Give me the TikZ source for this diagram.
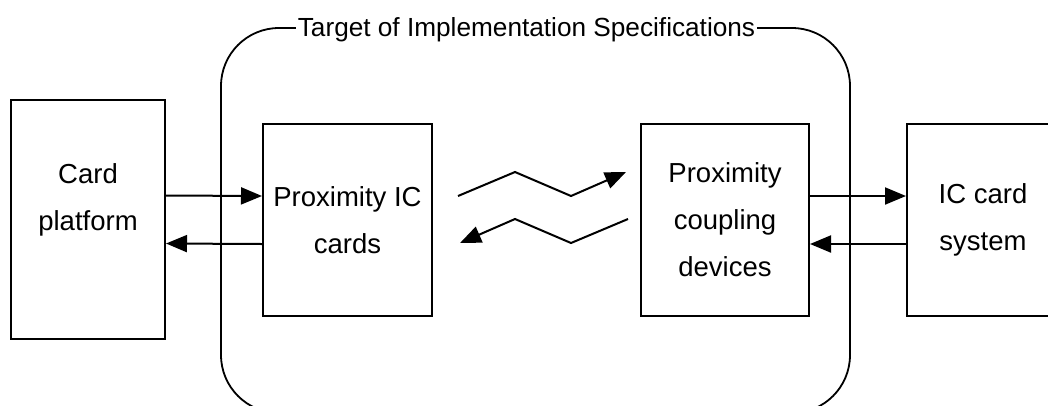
\documentclass[tikz,border=0pt]{standalone}
\usepackage{fontspec}
\setmainfont{Liberation Sans}
\usetikzlibrary{arrows.meta}
\begin{document}
\begin{tikzpicture}[x=1pt,y=-1pt,
  block/.style={draw=black,line width=2pt,rectangle,inner sep=0pt,align=center,
    font=\fontsize{27.5}{47}\selectfont},
  arr/.style={line width=2pt,-{Triangle[length=21pt,width=17pt]}},
  zig/.style={line width=2pt,line join=miter,-{Triangle[length=21pt,width=17pt]}},
  frame/.style={draw=black,line width=1.8pt,rounded corners=58pt}]
\useasboundingbox (0,0) rectangle (1048,405);
\clip (0,0) rectangle (1048,405);

% scope of the specifications
\draw[frame] (221,28) rectangle (850,413);
\node[fill=white,inner xsep=1.5pt,inner ysep=2pt,anchor=base,
      font=\fontsize{26.2}{30}\selectfont] (title) at (526.5,36)
      {Target of Implementation Specifications};

% the four blocks
\node[block,minimum width=154pt,minimum height=239pt] (cp) at (88,219.5) {};
\node[font=\fontsize{27.5}{47}\selectfont,align=center] (cptext) at (88,199.5) {Card\\platform};
\node[block,minimum width=169pt,minimum height=192pt] (icc) at (347.5,220) {Proximity IC\\cards};
\node[block,minimum width=168pt,minimum height=192pt] (pcd) at (725,220) {Proximity\\coupling\\devices};
\node[block,minimum width=152pt,minimum height=192pt] (ics) at (983,220) {IC card\\system};

% wired links
\draw[arr] ([yshift=24pt]cp.east) -- ([yshift=24pt]icc.west);
\draw[arr] ([yshift=-24pt]icc.west) -- ([yshift=-24pt]cp.east);
\draw[arr] ([yshift=24pt]pcd.east) -- ([yshift=24pt]ics.west);
\draw[arr] ([yshift=-24pt]ics.west) -- ([yshift=-24pt]pcd.east);

% contactless links
\coordinate (up0) at (458,196);
\coordinate (up1) at (515,172);
\coordinate (up2) at (571,196);
\coordinate (up3) at (626,172);
\coordinate (dn0) at (628,219);
\coordinate (dn1) at (571,243);
\coordinate (dn2) at (515,219);
\coordinate (dn3) at (460,243);
\draw[zig] (up0) -- (up1) -- (up2) -- (up3);
\draw[zig] (dn0) -- (dn1) -- (dn2) -- (dn3);
\end{tikzpicture}
\end{document}
